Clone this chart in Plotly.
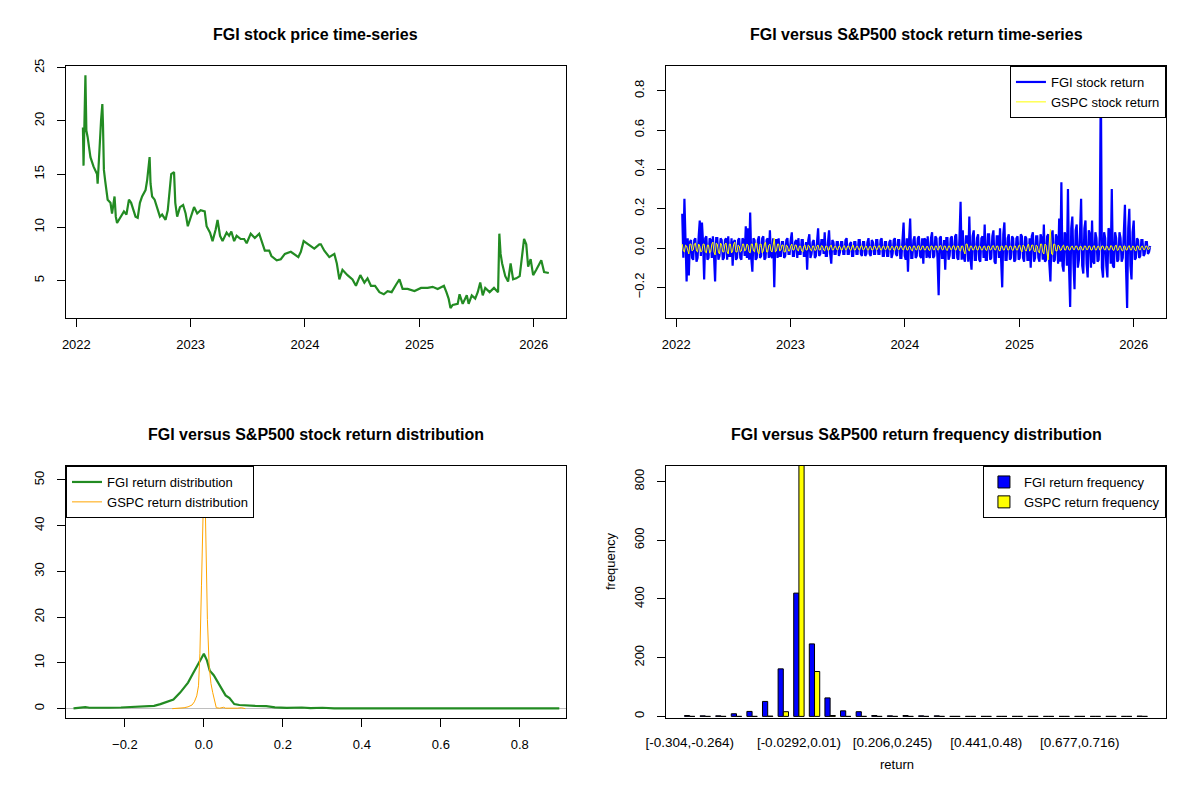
import pandas as pd
import plotly.graph_objects as go

# FGI closing price (days after 2022-01-01)
price_day = [21, 23, 29, 32, 36, 41, 45, 55, 66, 68, 71, 75, 79, 83, 85, 88, 92, 96, 100, 109,
             114, 122, 126, 130, 141, 152, 160, 168, 175, 189, 196, 203, 210, 221, 226, 234, 237, 242, 250, 258,
             267, 274, 285, 292, 297, 303, 312, 316, 322, 331, 341, 349, 356, 365, 376, 386, 397, 410, 416, 427,
             435, 445, 451, 459, 467, 480, 488, 495, 504, 512, 525, 536, 544, 557, 570, 584, 592, 602, 616, 623,
             640, 653, 666, 685, 709, 717, 726, 744, 760, 776, 781, 792, 808, 824, 832, 840, 850, 866, 882, 893,
             907, 920, 930, 941, 954, 968, 982, 994, 1007, 1021, 1032, 1042, 1058, 1080, 1101, 1122, 1138, 1154, 1174, 1182,
             1189, 1195, 1202, 1218, 1224, 1234, 1247, 1253, 1263, 1274, 1282, 1290, 1298, 1306, 1320, 1334, 1347, 1351, 1355, 1360,
             1370, 1379, 1387, 1395, 1405, 1416, 1423, 1430, 1437, 1443, 1451, 1459, 1469, 1477, 1485, 1494, 1509]
price_val = [19.4, 15.8, 24.3, 19.1, 18.5, 17.2, 16.6, 15.7, 15.0, 14.1, 15.4, 17.9, 20.1, 21.6, 19.8, 15.4, 14.4, 13.5, 12.6, 12.3,
             11.3, 12.9, 11.0, 10.4, 10.9, 11.5, 11.2, 12.6, 12.3, 11.0, 10.9, 12.3, 12.9, 13.5, 14.4, 16.6, 14.1, 12.9, 12.6, 11.9,
             11.0, 11.2, 10.7, 11.6, 13.5, 15.0, 15.2, 12.3, 11.0, 11.9, 12.1, 11.3, 10.1, 11.0, 11.9, 11.3, 11.6, 11.5, 10.1, 9.5,
             8.7, 9.8, 10.7, 9.2, 8.7, 9.5, 9.2, 9.6, 8.7, 9.2, 8.9, 8.9, 8.5, 9.4, 9.0, 9.4, 8.6, 7.8, 7.8, 7.3,
             6.9, 7.0, 7.5, 7.7, 7.2, 7.7, 8.7, 8.3, 8.0, 8.4, 8.4, 7.8, 7.2, 7.5, 6.6, 5.1, 6.0, 5.5, 5.1, 4.5,
             5.5, 4.8, 5.2, 4.5, 4.5, 3.9, 3.7, 4.0, 3.9, 4.6, 5.1, 4.2, 4.2, 4.0, 4.3, 4.3, 4.4, 4.2, 4.5, 3.9,
             3.3, 2.4, 2.7, 2.8, 3.7, 2.8, 3.6, 2.8, 3.6, 3.3, 3.9, 4.8, 3.6, 4.3, 3.9, 4.3, 3.9, 9.4, 7.5, 6.6,
             5.4, 4.9, 6.6, 5.1, 5.2, 5.4, 7.2, 8.9, 8.4, 6.3, 7.0, 5.5, 6.0, 6.4, 6.9, 5.8, 5.7]

# half-weekly returns
ret_start = "2022-01-20"
fgi_ret = [0.175, -0.05, 0.25, -0.04, -0.17, 0.05, -0.14, 0.03, 0.04, -0.05, -0.06, 0.04, 0.05, -0.07, -0.05, 0.06, 0.14, -0.04, 0.13, 0.03,
           -0.16, 0.05, 0.06, -0.06, -0.05, 0.05, 0.04, -0.05, 0.06, -0.04, -0.17, 0.05, 0.05, -0.06, -0.04, 0.05, 0.04, -0.06, -0.05, 0.04,
           0.05, -0.06, 0.06, -0.04, -0.04, 0.05, -0.09, 0.03, 0.04, -0.06, -0.05, 0.04, 0.05, -0.05, -0.06, 0.05, 0.04, -0.04, 0.11, -0.05,
           0.10, -0.06, 0.18, -0.05, -0.12, 0.05, 0.04, -0.06, -0.05, 0.04, 0.06, -0.05, -0.04, 0.05, 0.06, -0.06, -0.05, 0.04, 0.05, -0.05,
           0.09, -0.04, -0.05, 0.05, -0.20, 0.04, 0.04, -0.05, 0.05, -0.04, -0.04, 0.03, 0.03, -0.05, -0.04, 0.04, 0.05, -0.03, -0.03, 0.04,
           0.08, -0.04, -0.04, 0.03, 0.04, -0.05, 0.05, -0.03, -0.03, 0.04, 0.04, -0.04, -0.04, 0.03, -0.11, 0.04, 0.07, -0.05, -0.03, 0.03,
           0.04, -0.05, -0.04, 0.03, 0.10, -0.04, -0.03, 0.04, 0.04, -0.03, 0.08, -0.04, -0.04, 0.03, 0.09, -0.03, -0.08, 0.04, 0.03, -0.03,
           -0.03, 0.03, 0.03, -0.04, -0.02, 0.03, 0.03, -0.03, -0.03, 0.04, 0.05, -0.03, -0.03, 0.02, 0.03, -0.04, -0.04, 0.03, 0.03, -0.03,
           -0.03, 0.04, 0.04, -0.03, -0.04, 0.03, 0.03, -0.04, -0.03, 0.03, 0.05, -0.03, -0.04, 0.04, 0.03, -0.03, -0.03, 0.04, 0.04, -0.03,
           -0.03, 0.04, 0.05, -0.04, -0.04, 0.03, 0.03, -0.04, -0.04, 0.03, 0.04, -0.05, -0.03, 0.04, 0.05, -0.03, -0.04, 0.04, 0.04, -0.05,
           -0.05, 0.04, 0.13, -0.04, -0.06, 0.05, -0.12, 0.04, 0.15, -0.05, -0.05, 0.04, 0.06, -0.05, -0.04, 0.05, 0.06, -0.04, -0.05, 0.05,
           -0.08, 0.05, 0.04, -0.05, 0.06, -0.04, -0.05, 0.05, 0.08, -0.05, -0.04, 0.06, 0.05, -0.06, -0.24, 0.05, 0.06, -0.05, -0.05, 0.04,
           -0.11, 0.05, 0.05, -0.06, -0.04, 0.05, 0.06, -0.05, -0.05, 0.06, 0.07, -0.05, -0.06, 0.05, 0.235, -0.06, 0.09, -0.05, -0.07, 0.06,
           0.06, -0.07, 0.16, -0.05, -0.11, 0.06, 0.09, -0.06, -0.06, 0.05, 0.07, -0.06, -0.07, 0.05, 0.06, -0.05, 0.12, -0.06, -0.06, 0.07,
           0.07, -0.06, -0.05, 0.06, 0.09, -0.07, -0.08, 0.06, 0.06, -0.05, 0.10, -0.06, -0.20, 0.07, 0.13, -0.06, -0.06, 0.05, 0.07, -0.06,
           -0.05, 0.06, 0.05, -0.07, -0.06, 0.05, 0.06, -0.06, -0.05, 0.07, 0.06, -0.05, -0.07, 0.06, 0.05, -0.06, -0.06, 0.05, -0.10, 0.06,
           0.08, -0.07, -0.05, 0.06, 0.06, -0.05, -0.07, 0.07, 0.05, -0.06, 0.12, -0.07, -0.06, 0.06, 0.07, -0.08, -0.17, 0.06, 0.09, -0.07,
           -0.06, 0.07, 0.05, -0.08, 0.15, -0.07, 0.335, -0.09, -0.12, 0.08, 0.06, -0.09, 0.30, -0.10, -0.30, 0.10, 0.16, -0.08, -0.21, 0.09,
           0.12, -0.10, -0.06, 0.08, 0.25, -0.09, -0.13, 0.10, 0.14, -0.08, -0.15, 0.09, 0.07, -0.10, 0.14, -0.07, -0.08, 0.08, 0.05, -0.07,
           -0.06, 0.06, 0.878, -0.10, -0.15, 0.08, 0.05, -0.09, -0.15, 0.10, 0.09, -0.08, 0.30, -0.09, -0.10, 0.08, 0.05, -0.07, -0.06, 0.08,
           0.05, -0.07, -0.05, 0.08, 0.22, -0.10, -0.305, 0.10, 0.20, -0.09, -0.16, 0.08, 0.14, -0.06, -0.05, 0.05, 0.04, -0.05, -0.04, 0.04,
           0.04, -0.04, -0.03, 0.03, 0.03, -0.03, -0.02, 0.01]
gspc_ret = [0.02, -0.015, -0.02, 0.015, 0.01, -0.02, -0.03, 0.02, 0.02, -0.015, -0.01, 0.02, 0.025, -0.015, -0.02, 0.02, 0.01, -0.02, -0.015, 0.02,
            0.02, -0.02, -0.025, 0.015, 0.015, -0.025, -0.02, 0.02, 0.03, -0.02, -0.035, 0.025, 0.02, -0.02, -0.03, 0.025, 0.015, -0.02, -0.02, 0.02,
            0.025, -0.02, -0.03, 0.02, 0.02, -0.025, -0.015, 0.02, 0.03, -0.02, -0.02, 0.015, 0.01, -0.02, -0.015, 0.02, 0.02, -0.015, -0.01, 0.02,
            0.015, -0.02, -0.025, 0.02, 0.02, -0.015, -0.02, 0.025, 0.025, -0.02, -0.03, 0.02, 0.02, -0.025, -0.015, 0.02, 0.03, -0.02, -0.02, 0.015,
            0.02, -0.015, -0.02, 0.015, 0.05, -0.02, -0.015, 0.02, 0.02, -0.015, -0.01, 0.015, 0.015, -0.02, -0.02, 0.015, 0.01, -0.015, -0.015, 0.01,
            0.02, -0.01, -0.01, 0.015, 0.015, -0.01, -0.015, 0.01, 0.01, -0.015, -0.02, 0.01, 0.015, -0.01, -0.01, 0.015, 0.01, -0.01, -0.015, 0.01,
            0.01, -0.012, -0.01, 0.01, 0.015, -0.01, -0.01, 0.012, 0.01, -0.01, -0.015, 0.01, 0.01, -0.012, -0.01, 0.01, 0.015, -0.01, -0.01, 0.008,
            0.01, -0.008, -0.01, 0.01, 0.008, -0.01, -0.01, 0.008, 0.012, -0.01, -0.008, 0.01, 0.01, -0.008, -0.012, 0.01, 0.015, -0.01, -0.01, 0.008,
            0.01, -0.008, -0.01, 0.01, 0.012, -0.01, -0.008, 0.008, 0.01, -0.01, -0.01, 0.008, 0.008, -0.01, -0.01, 0.01, 0.01, -0.008, -0.008, 0.01,
            0.012, -0.01, -0.01, 0.008, 0.01, -0.008, -0.008, 0.01, 0.01, -0.01, -0.01, 0.008, 0.008, -0.01, -0.012, 0.01, 0.01, -0.008, -0.008, 0.01,
            0.01, -0.008, -0.01, 0.01, 0.012, -0.01, -0.01, 0.008, 0.008, -0.01, -0.015, 0.01, 0.01, -0.008, -0.01, 0.01, 0.012, -0.01, -0.008, 0.01,
            0.01, -0.01, -0.01, 0.008, 0.008, -0.01, -0.012, 0.01, 0.01, -0.008, -0.01, 0.01, 0.01, -0.01, -0.008, 0.01, 0.012, -0.008, -0.01, 0.01,
            0.01, -0.01, -0.012, 0.01, 0.01, -0.008, -0.008, 0.01, 0.012, -0.01, -0.01, 0.01, 0.01, -0.012, -0.015, 0.01, 0.01, -0.015, -0.03, 0.02,
            0.02, -0.01, -0.015, 0.01, 0.01, -0.01, -0.01, 0.008, 0.012, -0.01, -0.01, 0.01, 0.008, -0.01, -0.01, 0.008, 0.01, -0.01, -0.012, 0.01,
            0.01, -0.01, -0.008, 0.01, 0.012, -0.008, -0.01, 0.01, 0.01, -0.012, -0.015, 0.01, 0.01, -0.01, -0.01, 0.012, 0.012, -0.01, -0.01, 0.01,
            0.01, -0.01, -0.012, 0.01, 0.01, -0.01, -0.01, 0.012, 0.015, -0.01, -0.02, 0.015, 0.01, -0.012, -0.015, 0.01, 0.02, -0.015, -0.01, 0.015,
            0.015, -0.015, -0.02, 0.015, 0.01, -0.02, -0.025, 0.02, 0.02, -0.02, -0.03, 0.02, 0.015, -0.03, -0.06, 0.03, 0.095, -0.03, -0.035, 0.02,
            0.02, -0.015, -0.015, 0.015, 0.01, -0.012, -0.01, 0.01, 0.015, -0.01, -0.01, 0.01, 0.008, -0.01, -0.01, 0.008, 0.01, -0.008, -0.008, 0.01,
            0.01, -0.008, -0.01, 0.008, 0.008, -0.01, -0.01, 0.01, 0.01, -0.008, -0.008, 0.01, 0.01, -0.01, -0.01, 0.008, 0.012, -0.01, -0.01, 0.008,
            0.01, -0.01, -0.008, 0.01, 0.01, -0.008, -0.01, 0.01, 0.008, -0.01, -0.01, 0.012, 0.01, -0.01, -0.012, 0.01, 0.015, -0.012, -0.01, 0.01,
            0.01, -0.012, -0.015, 0.01, 0.01, -0.01, -0.01, 0.008, 0.012, -0.01, -0.01, 0.01, 0.008, -0.01, -0.015, 0.01, 0.01, -0.008, -0.01, 0.008,
            0.01, -0.008, -0.008, 0.01, 0.01, -0.008, -0.005, 0.005]

# kernel density curves
fgi_dens_x = [-0.33, -0.31, -0.30, -0.29, -0.27, -0.24, -0.21, -0.19, -0.17, -0.15,
              -0.126, -0.11, -0.095, -0.077, -0.06, -0.05, -0.04, -0.03, -0.018, -0.008,
              0.0, 0.008, 0.015, 0.025, 0.035, 0.045, 0.055, 0.065, 0.077, 0.09,
              0.104, 0.13, 0.158, 0.18, 0.21, 0.248, 0.27, 0.30, 0.33, 0.4,
              0.6, 0.75, 0.9]
fgi_dens_y = [0.05, 0.2, 0.35, 0.2, 0.15, 0.2, 0.25, 0.3, 0.35, 0.45,
              0.6, 1.0, 1.5, 2.0, 3.5, 4.5, 5.7, 7.3, 9.3, 11.0,
              12.0, 10.5, 8.3, 7.3, 5.8, 4.3, 2.9, 2.3, 1.0, 0.8,
              0.7, 0.6, 0.55, 0.3, 0.15, 0.25, 0.12, 0.2, 0.08, 0.05,
              0.04, 0.06, 0.04]
gspc_dens_x = [-0.08, -0.06, -0.05, -0.04, -0.03, -0.024, -0.018, -0.0135, -0.01, -0.006,
               -0.003, 0.0, 0.003, 0.006, 0.009, 0.0135, 0.018, 0.0225, 0.027, 0.0315,
               0.04, 0.05, 0.055, 0.065, 0.085, 0.095, 0.105]
gspc_dens_y = [0.0, 0.1, 0.2, 0.4, 0.8, 1.5, 2.8, 5.0, 12.0, 27.0,
               42.0, 50.0, 47.0, 34.0, 19.5, 9.3, 5.5, 3.5, 1.5, 0.2,
               0.1, 0.3, 0.1, 0.05, 0.1, 0.2, 0.0]

# return frequency table
bins = ["[-0.304,-0.264)", "[-0.264,-0.225)", "[-0.225,-0.186)", "[-0.186,-0.147)",
        "[-0.147,-0.108)", "[-0.108,-0.0685)", "[-0.0685,-0.0292)", "[-0.0292,0.01)",
        "[0.01,0.0493)", "[0.0493,0.0885)", "[0.0885,0.128)", "[0.128,0.167)",
        "[0.167,0.206)", "[0.206,0.245)", "[0.245,0.285)", "[0.285,0.324)",
        "[0.324,0.363)", "[0.363,0.402)", "[0.402,0.441)", "[0.441,0.48)",
        "[0.48,0.52)", "[0.52,0.559)", "[0.559,0.598)", "[0.598,0.638)",
        "[0.638,0.677)", "[0.677,0.716)", "[0.716,0.755)", "[0.755,0.795)",
        "[0.795,0.834)", "[0.834,0.873]"]
fgi_freq = [3, 2, 2, 9, 17, 51, 162, 420, 247, 63, 19, 16, 3, 2, 3, 2, 2,
            0, 0, 0, 0, 0, 0, 0, 0, 0, 0, 0, 0, 1]
gspc_freq = [0, 0, 0, 0, 0, 1, 16, 860, 153, 3, 0, 0, 0, 0, 0, 0, 0,
             0, 0, 0, 0, 0, 0, 0, 0, 0, 0, 0, 0, 0]
shown_bins = ["[-0.304,-0.264)", "[-0.0292,0.01)", "[0.206,0.245)",
              "[0.441,0.48)", "[0.677,0.716)"]

FONT = "Liberation Sans, Arial, sans-serif"

price_dates = pd.Timestamp("2022-01-01") + pd.to_timedelta(price_day, unit="D")
ret_dates = pd.date_range(ret_start, periods=len(fgi_ret), freq="84h")

fig = go.Figure()

fig.add_trace(go.Scatter(x=price_dates, y=price_val, mode="lines",
                         line=dict(color="#228B22", width=2.2),
                         showlegend=False, xaxis="x", yaxis="y"))

fig.add_trace(go.Scatter(x=ret_dates, y=fgi_ret, mode="lines",
                         name="FGI stock return",
                         line=dict(color="#0000FF", width=2.2),
                         xaxis="x2", yaxis="y2", legend="legend"))
fig.add_trace(go.Scatter(x=ret_dates, y=gspc_ret, mode="lines",
                         name="GSPC stock return",
                         line=dict(color="#FFFF00", width=1),
                         xaxis="x2", yaxis="y2", legend="legend"))

fig.add_trace(go.Scatter(x=fgi_dens_x, y=fgi_dens_y, mode="lines",
                         name="FGI return distribution",
                         line=dict(color="#228B22", width=2.2),
                         xaxis="x3", yaxis="y3", legend="legend2"))
fig.add_trace(go.Scatter(x=gspc_dens_x, y=gspc_dens_y, mode="lines",
                         name="GSPC return distribution",
                         line=dict(color="#FFA500", width=1),
                         xaxis="x3", yaxis="y3", legend="legend2"))

fig.add_trace(go.Bar(x=bins, y=fgi_freq, name="FGI return frequency",
                     marker=dict(color="#0000FF", line=dict(color="black", width=1)),
                     xaxis="x4", yaxis="y4", legend="legend3"))
fig.add_trace(go.Bar(x=bins, y=gspc_freq, name="GSPC return frequency",
                     marker=dict(color="#FFFF00", line=dict(color="black", width=1)),
                     xaxis="x4", yaxis="y4", legend="legend3"))

axis_style = dict(showline=True, linecolor="black", linewidth=1, mirror=True,
                  ticks="outside", ticklen=8, tickcolor="black", tickwidth=1,
                  showgrid=False, zeroline=False, automargin=False,
                  tickfont=dict(family=FONT, size=13, color="black"))

# the page adds an 8px body margin, so the figure is drawn 16px smaller
left_dom = [0.0490, 0.4713]
right_dom = [0.5557, 0.9780]
top_dom = [0.6046, 0.9260]
bot_dom = [0.0944, 0.4158]

legend_style = dict(bgcolor="white", bordercolor="black", borderwidth=1,
                    font=dict(family=FONT, size=13, color="black"),
                    tracegroupgap=0)

fig.update_layout(
    width=1184, height=784,
    margin=dict(l=0, r=0, t=0, b=0),
    paper_bgcolor="white", plot_bgcolor="white",
    font=dict(family=FONT, color="black"),
    barmode="group", bargap=0.333, bargroupgap=0,
    xaxis=dict(axis_style, domain=left_dom, anchor="y", type="date",
               range=["2021-11-29", "2026-04-14"], dtick="M12",
               tick0="2022-01-01", tickformat="%Y", ticklabelstandoff=6),
    yaxis=dict(axis_style, domain=top_dom, anchor="x", range=[1.47, 25.17],
               tickvals=[5, 10, 15, 20, 25], tickangle=-90,
               ticklabelstandoff=8),
    xaxis2=dict(axis_style, domain=right_dom, anchor="y2", type="date",
                range=["2021-11-29", "2026-04-14"], dtick="M12",
                tick0="2022-01-01", tickformat="%Y", ticklabelstandoff=6),
    yaxis2=dict(axis_style, domain=top_dom, anchor="x2", range=[-0.356, 0.926],
                tickvals=[-0.2, 0, 0.2, 0.4, 0.6, 0.8], tickformat=".1f",
                tickangle=-90, ticklabelstandoff=8),
    xaxis3=dict(axis_style, domain=left_dom, anchor="y3", range=[-0.349, 0.917],
                tickvals=[-0.2, 0, 0.2, 0.4, 0.6, 0.8], tickformat=".1f",
                ticklabelstandoff=6),
    yaxis3=dict(axis_style, domain=bot_dom, anchor="x3", range=[-2.04, 53.04],
                tickvals=[0, 10, 20, 30, 40, 50], tickangle=-90,
                ticklabelstandoff=8,
                zeroline=True, zerolinecolor="#BEBEBE", zerolinewidth=1),
    xaxis4=dict(axis_style, domain=right_dom, anchor="y4", type="category",
                range=[-1.52, 30.52], ticks="", tickvals=shown_bins,
                ticktext=shown_bins, ticklabelstandoff=12,
                tickfont=dict(family=FONT, size=13.5, color="black")),
    yaxis4=dict(axis_style, domain=bot_dom, anchor="x4", range=[-5.4, 853],
                tickvals=[0, 200, 400, 600, 800], tickangle=-90,
                ticklabelstandoff=8),
    legend=dict(legend_style, x=0.9780, xanchor="right", y=0.9260, yanchor="top"),
    legend2=dict(legend_style, x=0.0490, xanchor="left", y=0.4158, yanchor="top"),
    legend3=dict(legend_style, x=0.9780, xanchor="right", y=0.4158, yanchor="top"),
)

titles = [
    ("FGI stock price time-series", 0.2601, 0.9668),
    ("FGI versus S&P500 stock return time-series", 0.7669, 0.9668),
    ("FGI versus S&P500 stock return distribution", 0.2601, 0.4566),
    ("FGI versus S&P500 return frequency distribution", 0.7669, 0.4566),
]
for text, x, y in titles:
    fig.add_annotation(text="<b>" + text + "</b>", x=x, y=y, xref="paper",
                       yref="paper", showarrow=False, xanchor="center",
                       yanchor="middle",
                       font=dict(family=FONT, size=16, color="black"))

fig.add_annotation(text="frequency", x=0.5085, y=0.2551, xref="paper",
                   yref="paper", showarrow=False, textangle=-90,
                   font=dict(family=FONT, size=13, color="black"))
fig.add_annotation(text="return", x=0.7669, y=0.0230, xref="paper",
                   yref="paper", showarrow=False,
                   font=dict(family=FONT, size=13, color="black"))

fig.write_html("out.html")
